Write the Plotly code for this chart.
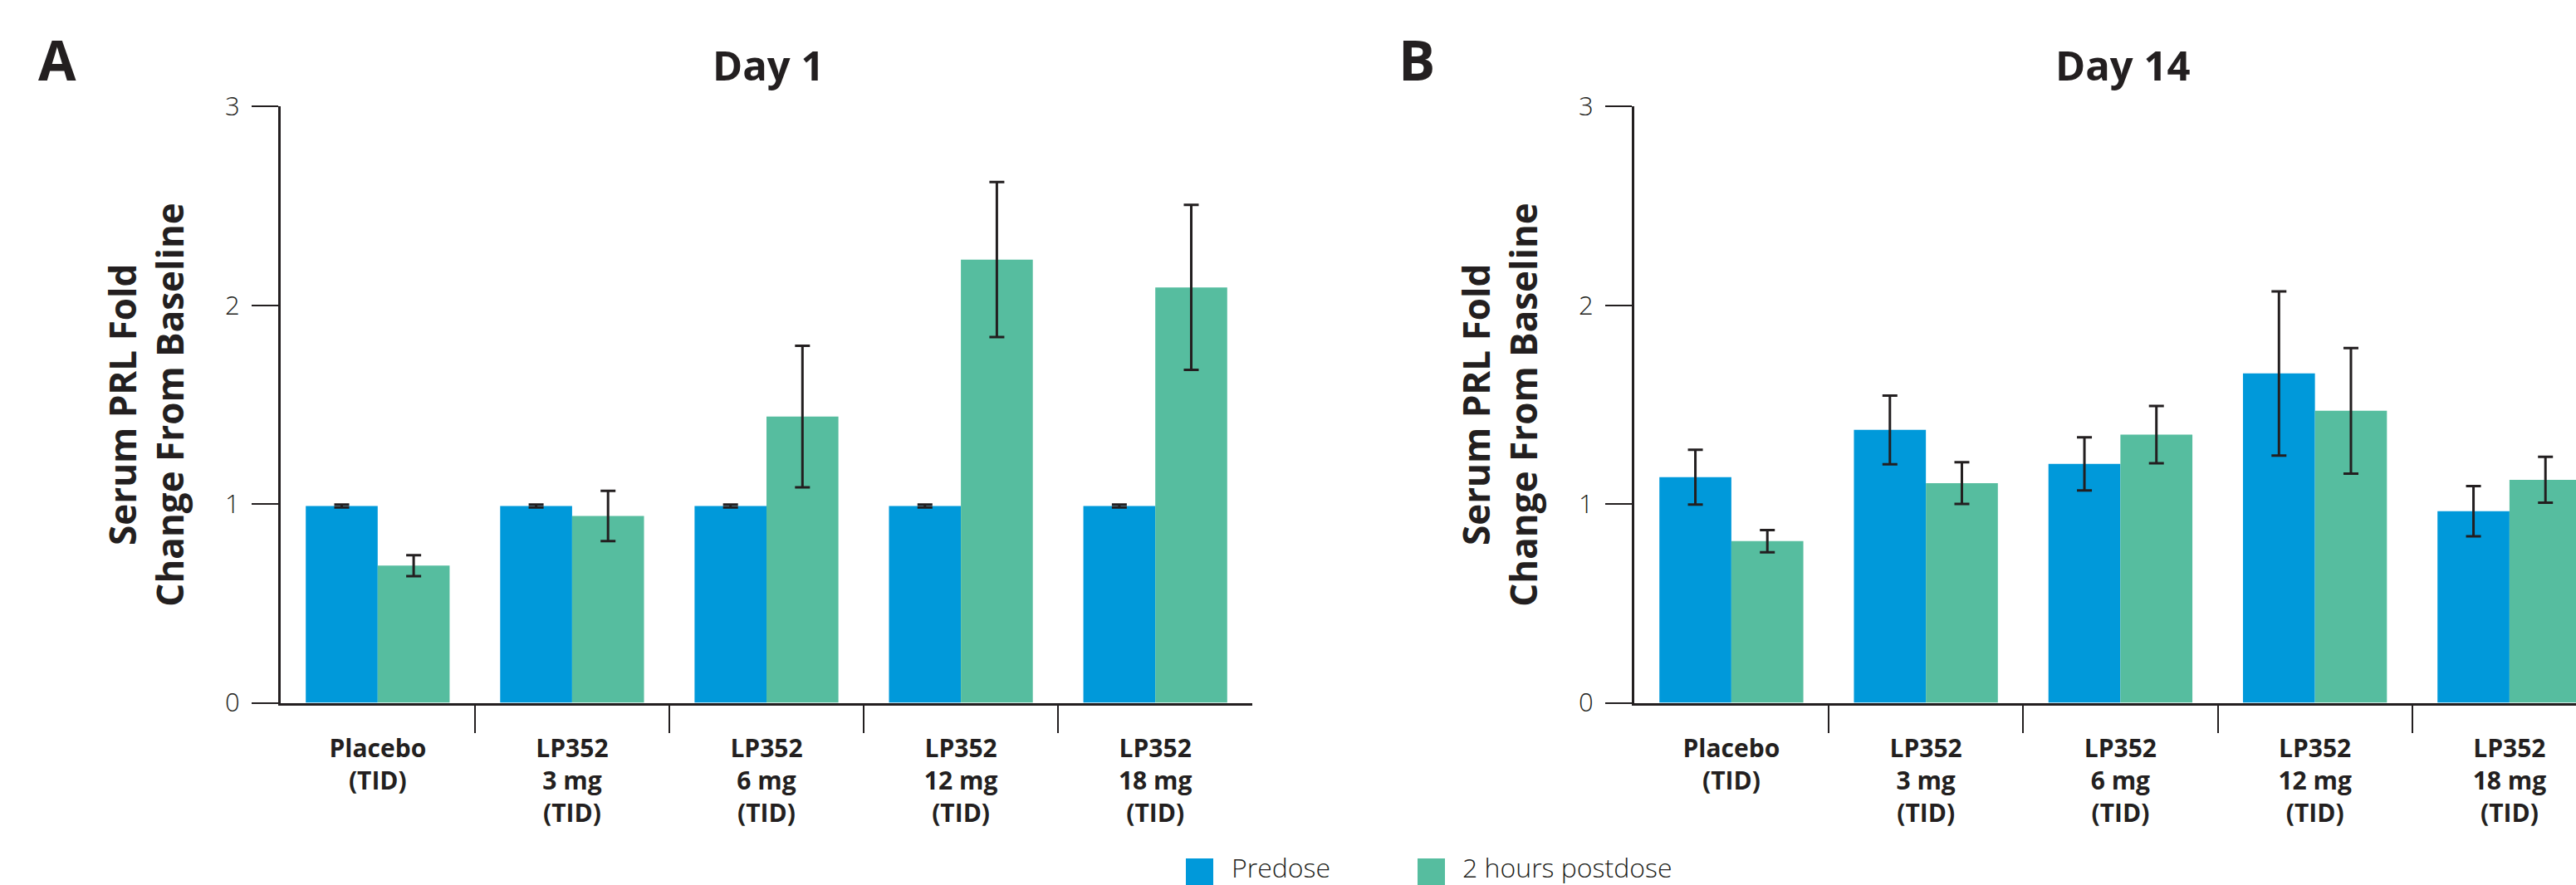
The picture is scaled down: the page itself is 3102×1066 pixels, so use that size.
import plotly.graph_objects as go

# ---------------- data ----------------
categories = ["Placebo<br>(TID)", "LP352<br>3 mg<br>(TID)", "LP352<br>6 mg<br>(TID)",
              "LP352<br>12 mg<br>(TID)", "LP352<br>18 mg<br>(TID)"]
series_names = ["Predose", "2 hours postdose"]

day1_predose = [0.99, 0.99, 0.99, 0.99, 0.99]
day1_predose_err = [0.007, 0.007, 0.007, 0.007, 0.007]
day1_postdose = [0.69, 0.94, 1.44, 2.23, 2.09]
day1_postdose_err = [0.053, 0.126, 0.356, 0.39, 0.415]

day14_predose = [1.135, 1.373, 1.202, 1.657, 0.964]
day14_predose_err = [0.138, 0.173, 0.134, 0.413, 0.126]
day14_postdose = [0.813, 1.105, 1.349, 1.469, 1.122]
day14_postdose_err = [0.056, 0.105, 0.144, 0.316, 0.115]

y_tick_values = [0, 1, 2, 3]
y_tick_labels = ["0", "1", "2", "3"]
panel_titles = ["Day 1", "Day 14"]
panel_letters = ["A", "B"]
y_title = "Serum PRL Fold<br>Change From Baseline"

# ---------------- style ----------------
W, H = 3102, 1066
BLUE = "#0099DA"
GREEN = "#56BD9F"
DARK = "#231F20"
FONT = "Open Sans"

def px_x(p):
    return p / W

def px_y(p):
    return (H - p) / H

fig = go.Figure()

panels = [
    ("x", "y", day1_predose, day1_predose_err, day1_postdose, day1_postdose_err),
    ("x2", "y2", day14_predose, day14_predose_err, day14_postdose, day14_postdose_err),
]
for xa, ya, pre, pre_e, post, post_e in panels:
    for name, vals, errs, col in [(series_names[0], pre, pre_e, BLUE),
                                  (series_names[1], post, post_e, GREEN)]:
        fig.add_trace(go.Bar(
            x=categories, y=vals, name=name, xaxis=xa, yaxis=ya,
            marker=dict(color=col, line=dict(width=0)),
            error_y=dict(type="data", array=errs, visible=True,
                         color=DARK, thickness=3, width=9),
            showlegend=False,
        ))

ydom = [px_y(846.5), px_y(128.3)]

common_x = dict(
    type="category", tickson="boundaries", ticks="outside", ticklen=33,
    tickwidth=2, tickcolor=DARK, showline=True, linewidth=3, linecolor=DARK,
    showgrid=False, zeroline=False, automargin=False, ticklabelstandoff=26,
    tickfont=dict(family=FONT, size=30, color=DARK, weight="bold"),
)
common_y = dict(
    range=[0, 3], tickvals=y_tick_values, ticktext=y_tick_labels,
    ticks="outside", ticklen=32, tickwidth=2, tickcolor=DARK,
    showline=True, linewidth=3, linecolor=DARK, showgrid=False, zeroline=False,
    automargin=False, ticklabelstandoff=8,
    tickfont=dict(family=FONT, size=31, color=DARK, weight=300),
    title=dict(text=y_title, standoff=36,
               font=dict(family=FONT, size=44, color=DARK, weight="bold")),
)

fig.update_layout(
    width=W, height=H,
    margin=dict(l=0, r=0, t=0, b=0, autoexpand=False),
    paper_bgcolor="white", plot_bgcolor="white",
    barmode="group", bargap=0.26, bargroupgap=0,
    showlegend=False,
    xaxis=dict(domain=[px_x(338), px_x(1508)], range=[-0.499, 4.499], anchor="y", **common_x),
    yaxis=dict(domain=ydom, anchor="x", **common_y),
    xaxis2=dict(domain=[px_x(1968), 1.0], range=[-0.499, 4.342], anchor="y2", **common_x),
    yaxis2=dict(domain=ydom, anchor="x2", **common_y),
)

annotations = []
# panel titles
for cx, t in zip([925, 2556], panel_titles):
    annotations.append(dict(x=px_x(cx), y=px_y(78), xref="paper", yref="paper",
                            text="<b>%s</b>" % t, showarrow=False,
                            xanchor="center", yanchor="middle",
                            font=dict(family=FONT, size=49, color=DARK)))
# panel letters
for lx, t in zip([44, 1682], panel_letters):
    annotations.append(dict(x=px_x(lx), y=px_y(71), xref="paper", yref="paper",
                            text="<b>%s</b>" % t, showarrow=False,
                            xanchor="left", yanchor="middle",
                            font=dict(family=FONT, size=66, color=DARK)))
# legend
legend_items = [(1428, 1481, BLUE, series_names[0]), (1707, 1759, GREEN, series_names[1])]
shapes = []
for sx, tx, col, name in legend_items:
    shapes.append(dict(type="rect", xref="paper", yref="paper",
                       x0=px_x(sx), x1=px_x(sx + 33), y0=px_y(1072), y1=px_y(1034),
                       fillcolor=col, line=dict(width=0)))
    annotations.append(dict(x=px_x(tx), y=px_y(1044), xref="paper", yref="paper",
                            text=name, showarrow=False, xanchor="left", yanchor="middle",
                            font=dict(family=FONT, size=32, color=DARK, weight=300)))

fig.update_layout(annotations=annotations, shapes=shapes)

fig.write_html("out.html")
